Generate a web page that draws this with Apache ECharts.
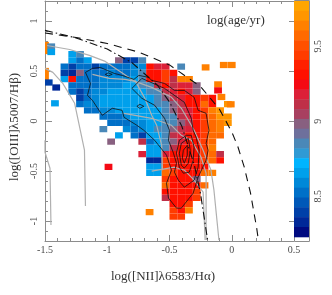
<!DOCTYPE html>
<html>
<head>
<meta charset="utf-8">
<script src="https://cdn.jsdelivr.net/npm/echarts@6/dist/echarts.min.js"></script>
<style>html,body{margin:0;padding:0;background:#fff}#c{width:332px;height:295px}</style>
</head>
<body>
<div id="c"></div>
<script>
// age codes
const a=8.3,b=8.4,c=8.5,d=8.6,e=8.68,f=8.85,g=8.98,h=9.1,i=9.18,j=9.34,k=9.45,l=9.55,m=9.62,n=9.7,_=null;

// each row: first column index, then log(age) per cell
const row08=[3,e,f];
const row09=[3,e,c,e,_,_,_,g,b,b,f];
const row10=[2,c,b,c,c,b,c,c,c,c,d,d,j,i,i,_,f];
const row11=[2,b,a,g,c,c,c,d,c,c,d,f,j,j,k,j];
const row12=[2,e,j,c,c,c,d,d,d,d,e,f,j,j,k,h,m,m];
const row13=[3,c,c,c,c,d,d,d,e,e,f,f,h,j,h,i,i,g];
const row14=[3,c,b,c,d,d,e,e,e,e,e,f,f,h,i,j,i,g];
const row15=[4,b,c,d,e,e,e,e,e,e,e,f,g,h,i,j,j,k,j];
const row16=[4,c,d,d,e,e,e,e,e,e,e,f,f,g,h,j,j,l,j,_,n];
const row17=[5,c,c,d,d,e,e,e,e,e,e,f,g,h,i,j,k,m,n];
const row18=[7,c,c,c,d,e,e,e,e,f,f,h,i,j,k,l,n,n];
const row19=[8,c,c,c,d,d,e,e,f,f,g,h,j,k,l,m,n];
const row20=[7,f,_,_,d,c,d,e,f,f,g,h,i,j,k,l,m];
const row21=[9,e,_,c,b,e,e,f,h,i,j,j,k,l,l];
const row22=[8,g,_,_,_,h,c,e,f,g,i,j,j,k,l];
const row23=[13,e,e,f,h,j,j,j,k,m];
const row24=[12,i,e,e,i,j,j,j,j,k,l,h];
const row25=[13,a,a,k,j,j,j,j,k,l,j];
const row26=[13,e,e,k,j,j,j,j,j];
const row27=[13,e,e,l,k,j,j,j,l,m];
const row28=[15,k,j,j,j,g];
const row29=[15,l,j,j,j,j,l];
const row30=[15,j,j,j,j,k];
const row31=[15,h,j,j,j,k];
const row32=[16,j,j,k];
const row33=[16,k,j,m];
const row34=[16,k,k];
const rowList=[[8,row08],[9,row09],[10,row10],[11,row11],[12,row12],[13,row13],[14,row14],[15,row15],[16,row16],[17,row17],[18,row18],[19,row19],[20,row20],[21,row21],[22,row22],[23,row23],[24,row24],[25,row25],[26,row26],[27,row27],[28,row28],[29,row29],[30,row30],[31,row31],[32,row32],[33,row33],[34,row34]];

// isolated cells off the main grid
const looseX=[-1.5,-1.5,-1.5,-1.5,-1.45,-1.45,-1.42,-1.47,-1.41,-0.99,-0.66,-0.21,-0.064,0,-0.11,-0.11,-0.083,-0.008];
const looseY=[0.76,0.70,0.50,0.44,0.745,0.69,0.177,0.385,0.335,-0.459,-0.911,0.536,0.56,0.56,0.366,0.306,0.24,0.167];
const looseAge=[m,m,m,m,f,e,e,b,a,9.27,m,m,m,m,m,9.27,m,m];

// colour bar levels, top to bottom
const colorLevels=['#ffa500','#ff9600','#ff8000','#ff6a00','#ff5000','#ff3c00','#ff2000','#ff1000','#f40a14','#dc2038','#bf3048','#a84060','#886080','#6e709c','#4a88b8','#2f9ad4','#00b4ff','#00a0ec','#0088d8','#0070c8','#0058b8','#0040a8','#002898','#000a80'];

// demarcation curves
const kewleyLine=[[-1.5,0.88],[-1.25,0.835],[-1,0.775],[-0.75,0.69],[-0.5,0.561],[-0.25,0.343],[-0.1,0.12],[0,-0.108],[0.05,-0.26],[0.1,-0.459],[0.15,-0.716],[0.2,-1.069],[0.215,-1.2]];
const kauffmannLine=[[-1.5,0.906],[-1.25,0.831],[-1,0.719],[-0.8,0.582],[-0.6,0.362],[-0.5,0.191],[-0.4,-0.056],[-0.3,-0.443],[-0.25,-0.733],[-0.2,-1.14],[-0.194,-1.2]];

// grey model tracks
const track1=[[-1.5,0.526],[-1.437,0.486],[-1.357,0.376],[-1.262,0.177],[-1.183,-0.292],[-1.175,-0.851]];
const track2=[[-1.5,-0.193],[-1.5,-0.312],[-1.46,-0.472],[-1.452,-1.041]];
const track3=[[-1.484,0.755],[-1.302,0.715],[-1.143,0.656],[-1.016,0.596],[-0.921,0.516],[-0.778,0.396],[-0.643,0.336],[-0.484,0.237],[-0.405,0.127],[-0.325,-0.043],[-0.302,-0.093],[-0.23,-0.292],[-0.167,-0.492],[-0.143,-0.692],[-0.103,-1.19]];
const track4=[[-1.119,0.466],[-0.984,0.426],[-0.857,0.416],[-0.778,0.396]];
const track5=[[-0.865,0.077],[-0.643,0.027],[-0.484,-0.043],[-0.405,-0.143],[-0.325,-0.193],[-0.246,-0.362],[-0.206,-0.522],[-0.206,-1.19]];
const track6=[[-0.778,0.406],[-0.698,0.227],[-0.643,0.057],[-0.603,-0.043],[-0.563,-0.243],[-0.556,-0.492]];
const track7=[[-0.643,-0.502],[-0.46,-0.462],[-0.381,-0.492],[-0.302,-0.592],[-0.23,-0.712],[-0.214,-1.19]];

// black density contours
const contour1=[[-1.175,0.486],[-1.119,0.526],[-1.056,0.536],[-1,0.506],[-0.944,0.476],[-0.881,0.456],[-0.786,0.416],[-0.746,0.456],[-0.667,0.436],[-0.643,0.406],[-0.54,0.376],[-0.46,0.306],[-0.381,0.306],[-0.302,0.237],[-0.27,0.107],[-0.206,0.077],[-0.183,-0.093],[-0.206,-0.223],[-0.19,-0.292],[-0.206,-0.392],[-0.27,-0.562],[-0.31,-0.722],[-0.405,-0.871],[-0.444,-0.871],[-0.508,-0.771],[-0.524,-0.622],[-0.484,-0.492],[-0.524,-0.342],[-0.619,-0.193],[-0.706,-0.093],[-0.762,-0.043],[-0.865,0.037],[-0.881,0.107],[-0.96,0.127],[-1.04,0.057],[-1.119,0.207],[-1.159,0.256],[-1.135,0.376],[-1.175,0.486]];
const contour2=[[-0.722,0.426],[-0.54,0.326],[-0.381,0.187],[-0.325,0.027],[-0.31,-0.093],[-0.286,-0.163],[-0.262,-0.292],[-0.27,-0.462],[-0.302,-0.592],[-0.381,-0.662],[-0.429,-0.592],[-0.46,-0.512],[-0.444,-0.422],[-0.468,-0.322],[-0.508,-0.193],[-0.5,-0.093],[-0.54,0.027],[-0.619,0.157],[-0.722,0.227],[-0.802,0.326],[-0.722,0.426]];
const contour3=[[-0.365,-0.143],[-0.421,-0.193],[-0.444,-0.322],[-0.421,-0.462],[-0.389,-0.522],[-0.341,-0.512],[-0.31,-0.392],[-0.302,-0.262],[-0.325,-0.143],[-0.365,-0.143]];
const contour4=[[-0.405,-0.223],[-0.421,-0.322],[-0.405,-0.442],[-0.381,-0.472],[-0.349,-0.422],[-0.333,-0.292],[-0.349,-0.173],[-0.405,-0.223]];
const contour5=[[-0.389,-0.292],[-0.397,-0.372],[-0.381,-0.422],[-0.357,-0.342],[-0.357,-0.243],[-0.389,-0.292]];
const contour6=[[-1.016,0.466],[-0.992,0.481],[-0.96,0.466],[-0.992,0.451],[-1.016,0.466]];
const contour7=[[-0.762,0.147],[-0.738,0.167],[-0.706,0.147],[-0.738,0.127],[-0.762,0.147]];

const majorTicks=[-1,-0.5,0,0.5,1];
const minorTicks=[-1.2,-1.1,-0.9,-0.8,-0.7,-0.6,-0.4,-0.3,-0.2,-0.1,0.1,0.2,0.3,0.4,0.6,0.7,0.8,0.9,1.1,1.2];
const barLabels=[8.5,9,9.5];
const barTicks=[8.267,8.333,8.4,8.467,8.533,8.6,8.667,8.733,8.8,8.867,8.933,9,9.067,9.133,9.2,9.267,9.333,9.4,9.467,9.533,9.6,9.667,9.733,9.8];

const serif='"Liberation Serif","Times New Roman",serif';
const axisGrey='#8c8c8c', textGrey='#4a4a4a';
const cellSize=0.0625, barTop=9.802, barBottom=8.23, barRange=1.572;
function ageColor(age){
  const t=Math.min(23,Math.max(0,Math.floor((barTop-age)/(barRange/24))));
  return colorLevels[t];
}
const cells=[];
rowList.forEach(([rowIndex,row])=>{
  const startCol=row[0];
  row.slice(1).forEach((age,col)=>{
    if(age===null) return;
    cells.push([-1.5+(startCol+col+0.5)*cellSize, 1.2-(rowIndex+0.5)*cellSize, age]);
  });
});
looseX.forEach((x,idx)=>cells.push([x,looseY[idx],looseAge[idx]]));

function renderCell(params,api){
  const p=api.coord([api.value(0),api.value(1)]);
  const s=api.size([cellSize,cellSize]);
  const shape=echarts.graphic.clipRectByRect({x:p[0]-s[0]/2,y:p[1]-s[1]/2,width:s[0],height:s[1]},
    {x:params.coordSys.x,y:params.coordSys.y,width:params.coordSys.width,height:params.coordSys.height});
  if(!shape) return;
  return {type:'rect',shape:shape,style:{fill:ageColor(api.value(2))}};
}
const barData=colorLevels.map((cl,t)=>[barTop-(t+1)*barRange/24, barTop-t*barRange/24, t]);
function renderBand(params,api){
  const p0=api.coord([0,api.value(1)]), p1=api.coord([1,api.value(0)]);
  return {type:'rect',shape:{x:p0[0],y:p0[1],width:p1[0]-p0[0],height:p1[1]-p0[1]+0.5},style:{fill:colorLevels[api.value(2)]}};
}
function lineSeries(pts,color,width,type){
  return {type:'line',xAxisIndex:0,yAxisIndex:0,data:pts,showSymbol:false,symbol:'none',silent:true,z:5,
    lineStyle:{color:color,width:width,type:type||'solid',cap:'butt',join:'round'}};
}
const lineBase={onZero:false,lineStyle:{color:axisGrey,width:1}};
const chart=echarts.init(document.getElementById('c'),null,{renderer:'canvas'});
chart.setOption({
  animation:false,
  backgroundColor:'#fff',
  grid:[{left:42,top:1,width:252,height:240},{left:294,top:1,width:15,height:240}],
  xAxis:[
    {gridIndex:0,type:'value',min:-1.5,max:0.5,interval:0.5,position:'bottom',axisLine:lineBase,splitLine:{show:false},
     axisTick:{inside:true,length:6,lineStyle:{color:axisGrey}},minorTick:{show:true,splitNumber:5,length:3,lineStyle:{color:axisGrey}},
     axisLabel:{fontFamily:serif,fontSize:10,color:textGrey,margin:4,showMinLabel:true,showMaxLabel:true,formatter:v=>String(v)},
     name:'log([NII]λ6583/Hα)',nameLocation:'middle',nameGap:29,nameTextStyle:{fontFamily:serif,fontSize:13,color:'#333',padding:[0,13,0,0]}},
    {gridIndex:0,type:'value',min:-1.5,max:0.5,interval:0.5,position:'top',axisLine:lineBase,splitLine:{show:false},
     axisTick:{inside:true,length:6,lineStyle:{color:axisGrey}},minorTick:{show:true,splitNumber:5,length:3,lineStyle:{color:axisGrey}},axisLabel:{show:false}},
    {gridIndex:1,type:'value',min:0,max:1,show:false}
  ],
  yAxis:[
    {gridIndex:0,type:'value',min:-1.2,max:1.2,position:'left',axisLine:lineBase,splitLine:{show:false},
     axisTick:{inside:true,length:7,customValues:majorTicks,lineStyle:{color:axisGrey}},
     axisLabel:{customValues:majorTicks,rotate:90,fontFamily:serif,fontSize:10,color:textGrey,margin:6,formatter:v=>String(v)},
     name:'log([OIII]λ5007/Hβ)',nameLocation:'middle',nameGap:24,nameRotate:90,nameTextStyle:{fontFamily:serif,fontSize:13,color:'#333',padding:[0,12,0,0]}},
    {gridIndex:0,type:'value',min:-1.2,max:1.2,position:'left',axisLine:{show:false,onZero:false},splitLine:{show:false},
     axisTick:{inside:true,length:3,customValues:minorTicks,lineStyle:{color:axisGrey}},axisLabel:{show:false}},
    {gridIndex:0,type:'value',min:-1.2,max:1.2,position:'right',axisLine:lineBase,splitLine:{show:false},
     axisTick:{inside:true,length:5,customValues:majorTicks,lineStyle:{color:axisGrey}},axisLabel:{show:false}},
    {gridIndex:1,type:'value',min:8.202,max:9.802,position:'right',axisLine:lineBase,splitLine:{show:false},
     axisTick:{inside:true,length:3,customValues:barTicks,lineStyle:{color:'#555'}},
     axisLabel:{customValues:barLabels,rotate:90,fontFamily:serif,fontSize:10,color:textGrey,margin:4,formatter:v=>String(v)}}
  ],
  graphic:[{type:'text',left:207,top:14,silent:true,style:{text:'log(age/yr)',fontFamily:serif,fontSize:13,fill:'#333'}},
           {type:'line',shape:{x1:294.5,y1:241.5,x2:309.5,y2:241.5},style:{stroke:axisGrey,lineWidth:1}},
           {type:'line',shape:{x1:294.5,y1:0.5,x2:309.5,y2:0.5},style:{stroke:axisGrey,lineWidth:1}}],
  series:[
    {type:'custom',xAxisIndex:0,yAxisIndex:0,renderItem:renderCell,data:cells,silent:true,z:2},
    {type:'custom',xAxisIndex:2,yAxisIndex:3,renderItem:renderBand,data:barData,silent:true,z:2},
    lineSeries(track1,'#b0b0b0',1.2),lineSeries(track2,'#b0b0b0',1.2),lineSeries(track3,'#b0b0b0',1.2),lineSeries(track4,'#b0b0b0',1.2),
    lineSeries(track5,'#b0b0b0',1.2),lineSeries(track6,'#b0b0b0',1.2),lineSeries(track7,'#b0b0b0',1.2),
    lineSeries(contour1,'#111',0.8),lineSeries(contour2,'#111',0.8),lineSeries(contour3,'#111',0.8),lineSeries(contour4,'#111',0.8),
    lineSeries(contour5,'#111',0.8),lineSeries(contour6,'#111',0.8),lineSeries(contour7,'#111',0.8),
    lineSeries(kewleyLine,'#111',1.1,[8,6]),
    lineSeries(kauffmannLine,'#111',1.1,[8,3,1.5,3])
  ]
});
</script>
</body>
</html>
